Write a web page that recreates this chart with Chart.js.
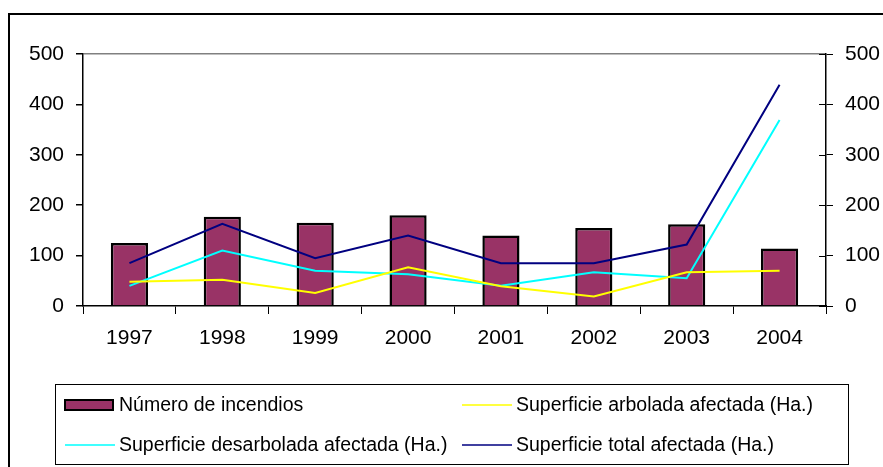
<!DOCTYPE html>
<html>
<head>
<meta charset="utf-8">
<script src="https://cdn.jsdelivr.net/npm/chart.js@4.4.1/dist/chart.umd.min.js"></script>
<style>
  html, body { margin: 0; padding: 0; background: #fff; }
  canvas { display: block; }
</style>
</head>
<body>
<canvas id="c" width="883" height="467"></canvas>
<script>
const categories = ['1997', '1998', '1999', '2000', '2001', '2002', '2003', '2004'];
const incendios = [125, 177, 165, 180, 140, 155, 162, 114];
const arbolada = [48, 52, 26, 77, 39, 19, 67, 70];
const desarbolada = [40, 110, 70, 63, 40, 67, 55, 369];
const total = [85, 163, 95, 140, 85, 85, 122, 439];
const yMin = 0, yMax = 500, yStep = 100;

const seriesLabels = [
  'Número de incendios',
  'Superficie arbolada afectada (Ha.)',
  'Superficie desarbolada afectada (Ha.)',
  'Superficie total afectada (Ha.)'
];

const FONT = "'Liberation Sans', Arial, sans-serif";

const frame = {
  id: 'frame',
  beforeDraw(chart) {
    const ctx = chart.ctx;
    ctx.save();
    ctx.fillStyle = '#fff';
    ctx.fillRect(0, 0, chart.width, chart.height);
    ctx.strokeStyle = '#000';
    ctx.lineWidth = 2;
    ctx.strokeRect(9, 14, chart.width + 20, chart.height + 20);
    ctx.restore();
  }
};

const rightInnerTicks = {
  id: 'rightInnerTicks',
  afterDraw(chart) {
    const s = chart.scales.y1;
    const ctx = chart.ctx;
    ctx.save();
    ctx.strokeStyle = '#000';
    ctx.lineWidth = 1;
    s.ticks.forEach(t => {
      const y = Math.round(s.getPixelForValue(t.value)) + 0.5;
      ctx.beginPath();
      ctx.moveTo(s.left - 7, y);
      ctx.lineTo(s.left, y);
      ctx.stroke();
    });
    ctx.restore();
  }
};

const boxLegend = {
  id: 'boxLegend',
  afterDraw(chart) {
    const ctx = chart.ctx;
    const ds = chart.data.datasets;
    ctx.save();
    ctx.strokeStyle = '#000';
    ctx.lineWidth = 1;
    ctx.strokeRect(55.5, 384.5, 793, 80);
    ctx.font = '19.5px ' + FONT;
    ctx.fillStyle = '#000';
    ctx.textBaseline = 'middle';
    const slots = [
      { x: 65, y: 405 }, { x: 462, y: 405 },
      { x: 65, y: 445 }, { x: 462, y: 445 }
    ];
    ds.forEach((d, i) => {
      const p = slots[i];
      if (d.type === 'bar') {
        ctx.fillStyle = d.backgroundColor;
        ctx.fillRect(p.x, p.y - 5, 48, 10);
        ctx.strokeStyle = '#000';
        ctx.lineWidth = 2;
        ctx.strokeRect(p.x, p.y - 5, 48, 10);
      } else {
        ctx.strokeStyle = d.borderColor;
        ctx.lineWidth = 1.5;
        ctx.beginPath();
        ctx.moveTo(p.x, p.y);
        ctx.lineTo(p.x + 50, p.y);
        ctx.stroke();
      }
      ctx.fillStyle = '#000';
      ctx.fillText(d.label, p.x + 54, p.y + 1);
    });
    ctx.restore();
  }
};

new Chart(document.getElementById('c'), {
  data: {
    labels: categories,
    datasets: [
      { type: 'bar', label: seriesLabels[0], data: incendios, backgroundColor: '#993366',
        borderColor: '#000', borderWidth: 2.5, barPercentage: 0.4, categoryPercentage: 1,
        yAxisID: 'y', order: 2 },
      { type: 'line', label: seriesLabels[1], data: arbolada, borderColor: '#FFFF00',
        borderWidth: 2, pointRadius: 0, tension: 0, fill: false, yAxisID: 'y1', order: 1 },
      { type: 'line', label: seriesLabels[2], data: desarbolada, borderColor: '#00FFFF',
        borderWidth: 2, pointRadius: 0, tension: 0, fill: false, yAxisID: 'y1', order: 1 },
      { type: 'line', label: seriesLabels[3], data: total, borderColor: '#000080',
        borderWidth: 2, pointRadius: 0, tension: 0, fill: false, yAxisID: 'y1', order: 1 }
    ]
  },
  options: {
    responsive: false,
    animation: false,
    devicePixelRatio: 1,
    layout: { padding: { top: 54, bottom: 111, left: 0, right: 0 } },
    plugins: { legend: { display: false }, tooltip: { enabled: false }, title: { display: false } },
    scales: {
      x: {
        type: 'category',
        offset: true,
        grid: { offset: true, drawOnChartArea: false, tickLength: 8, color: '#000', tickColor: '#000' },
        border: { color: '#000', width: 1.5 },
        ticks: { color: '#000', font: { family: FONT, size: 21 }, padding: 12, maxRotation: 0 },
        afterFit(s) { s.height = 50; }
      },
      y: {
        position: 'left',
        min: yMin, max: yMax,
        ticks: { stepSize: yStep, color: '#000', font: { family: FONT, size: 21 }, padding: 12 },
        grid: {
          color: c => (c.tick && c.tick.value === yMax) ? '#808080' : 'rgba(0,0,0,0)',
          tickColor: '#000', tickLength: 7, lineWidth: 1.5
        },
        border: { color: '#000', width: 1.5 },
        afterFit(s) { s.width = 83; }
      },
      y1: {
        position: 'right',
        min: yMin, max: yMax,
        ticks: { stepSize: yStep, color: '#000', font: { family: FONT, size: 21 }, padding: 12 },
        grid: { drawOnChartArea: false, tickColor: '#000', tickLength: 7 },
        border: { color: '#000', width: 1.5 },
        afterFit(s) { s.width = 57; }
      }
    }
  },
  plugins: [frame, rightInnerTicks, boxLegend]
});
</script>
</body>
</html>
